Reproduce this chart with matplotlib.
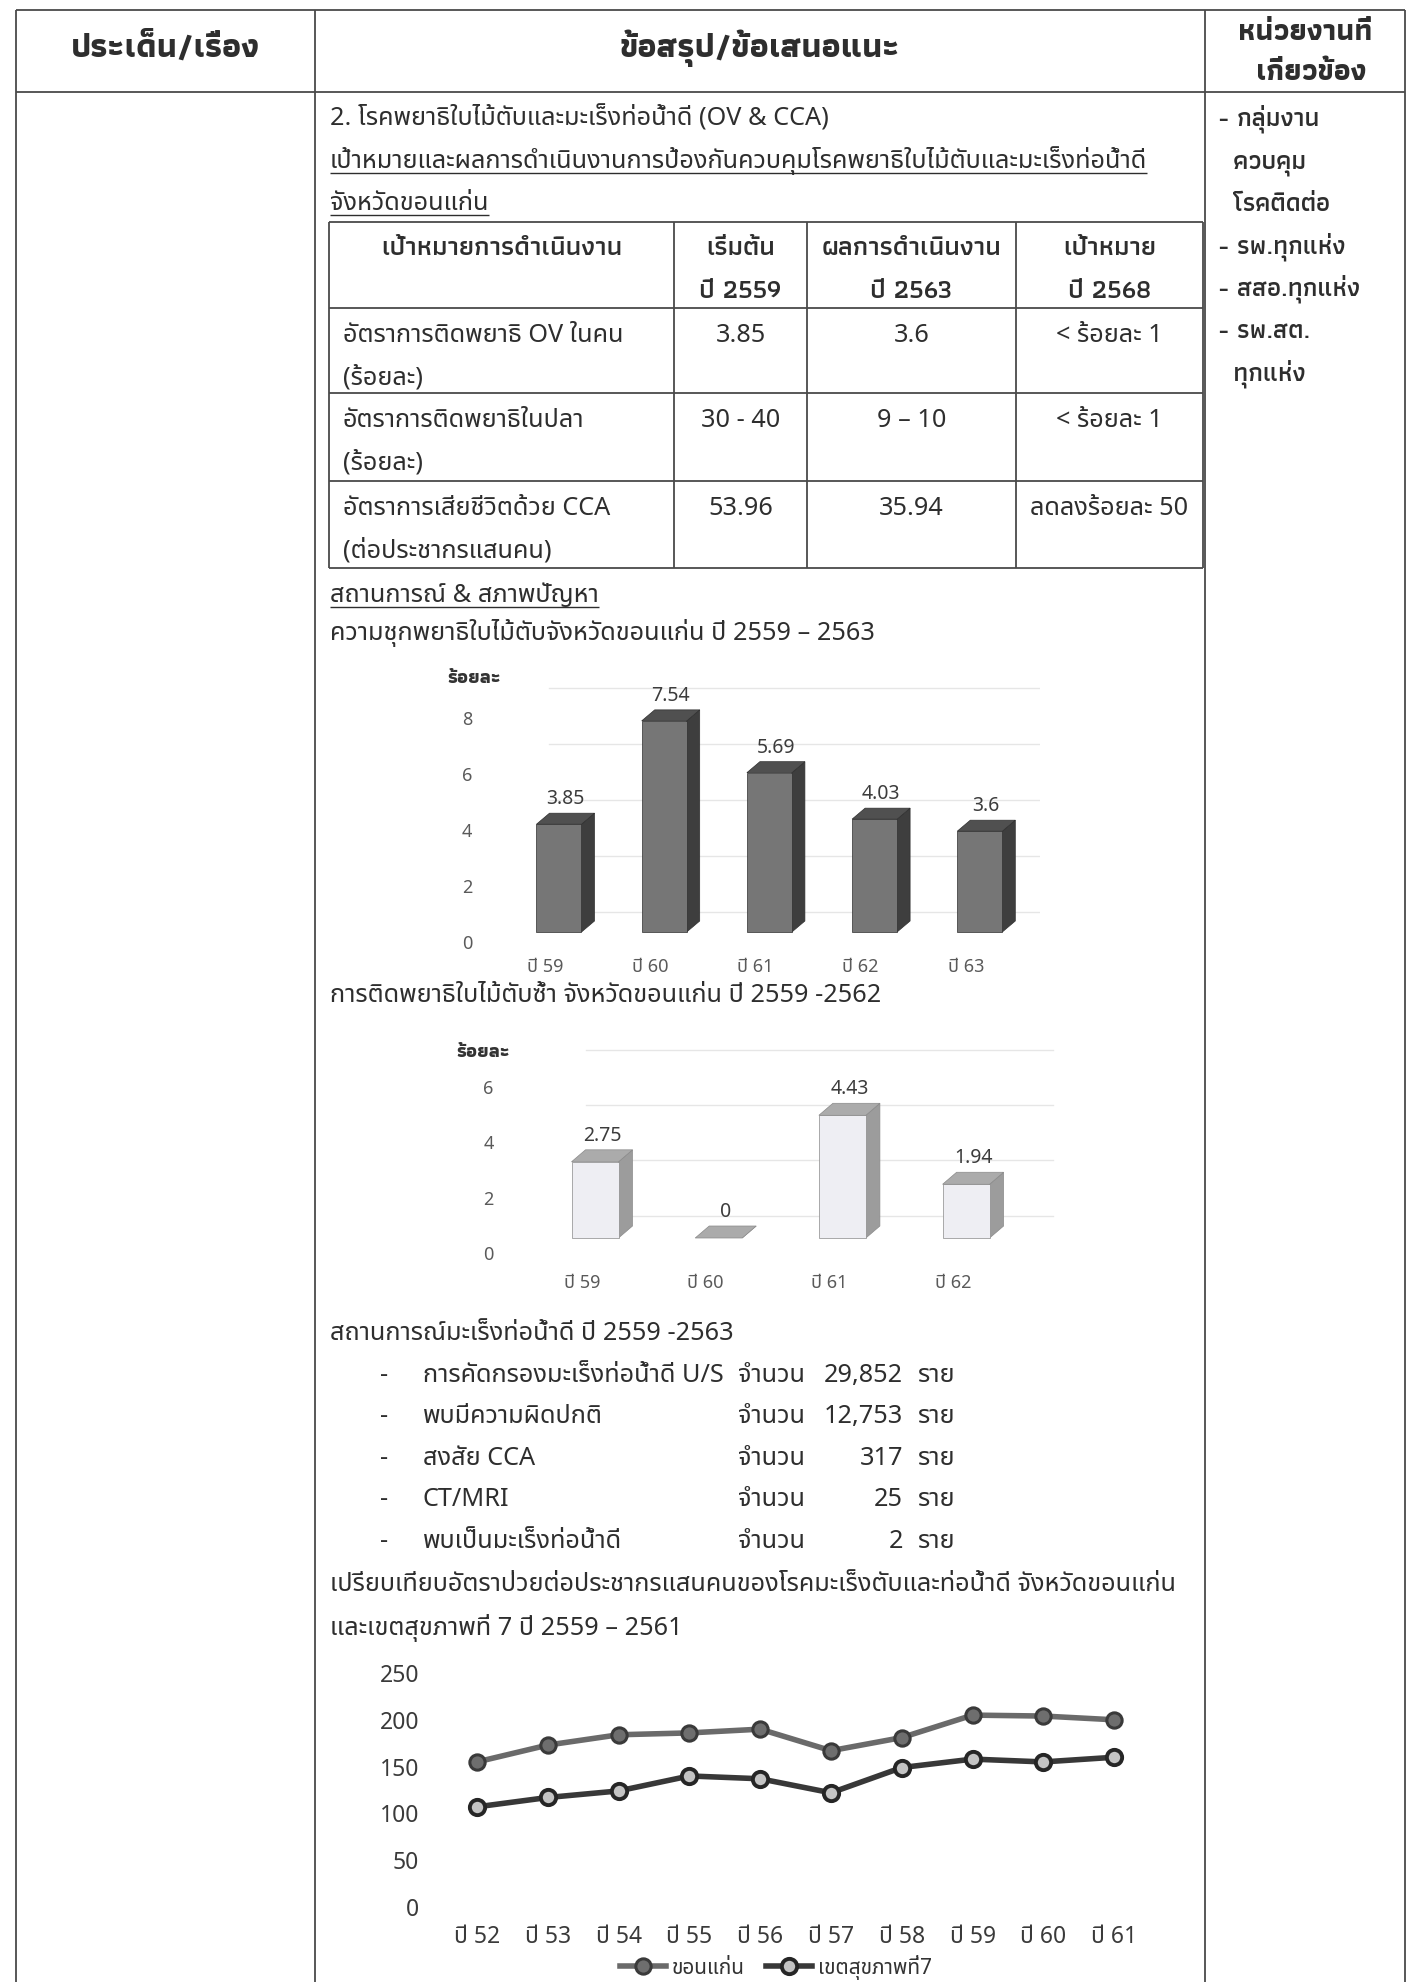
import matplotlib
matplotlib.use("Agg")
import matplotlib.pyplot as plt
from matplotlib.lines import Line2D
from matplotlib.patches import Polygon
from matplotlib.transforms import ScaledTranslation

W, H, DPI = 1412, 1982, 100
TEXT_FONT = ['Noto Sans Thai', 'Noto Sans', 'DejaVu Sans']
BOLD_FONT = ['Athiti', 'Noto Sans Thai', 'DejaVu Sans']
CHART_FONT = ['Noto Sans Thai', 'Noto Sans', 'DejaVu Sans']
plt.rcParams['font.family'] = TEXT_FONT

INK = '#2e2e2e'
RULE = '#4a4a4a'

# ---------------- data ----------------
agencies = ["- กลุ่มงาน", "  ควบคุม", "  โรคติดต่อ", "- รพ.ทุกแห่ง", "- สสอ.ทุกแห่ง", "- รพ.สต.", "  ทุกแห่ง"]

table_header = ["เป้าหมายการดำเนินงาน", "เริ่มต้น\nปี 2559", "ผลการดำเนินงาน\nปี 2563", "เป้าหมาย\nปี 2568"]
indicators = ["อัตราการติดพยาธิ OV ในคน\n(ร้อยละ)",
              "อัตราการติดพยาธิในปลา\n(ร้อยละ)",
              "อัตราการเสียชีวิตด้วย CCA\n(ต่อประชากรแสนคน)"]
baseline_2559 = ["3.85", "30 - 40", "53.96"]
result_2563 = ["3.6", "9 – 10", "35.94"]
goal_2568 = ["< ร้อยละ 1", "< ร้อยละ 1", "ลดลงร้อยละ 50"]

ov_years = ["ปี 59", "ปี 60", "ปี 61", "ปี 62", "ปี 63"]
ov_prevalence = [3.85, 7.54, 5.69, 4.03, 3.6]
ov_ticks = [0, 2, 4, 6, 8]

reinf_years = ["ปี 59", "ปี 60", "ปี 61", "ปี 62"]
reinf_rate = [2.75, 0, 4.43, 1.94]
reinf_ticks = [0, 2, 4, 6]

cca_steps = ["การคัดกรองมะเร็งท่อน้ำดี U/S", "พบมีความผิดปกติ", "สงสัย CCA", "CT/MRI", "พบเป็นมะเร็งท่อน้ำดี"]
cca_counts = [29852, 12753, 317, 25, 2]

trend_years = ["ปี 52", "ปี 53", "ปี 54", "ปี 55", "ปี 56", "ปี 57", "ปี 58", "ปี 59", "ปี 60", "ปี 61"]
khonkaen_rate = [155, 173, 184, 186, 190, 167, 181, 205, 204, 200]
region7_rate = [107, 117, 124, 140, 137, 122, 149, 158, 155, 160]
trend_ticks = [0, 50, 100, 150, 200, 250]

# ---------------- page ----------------
fig = plt.figure(figsize=(W / DPI, H / DPI), dpi=DPI)
fig.patch.set_facecolor('white')
renderer = fig.canvas.get_renderer()


def fx(x):
    return x / W


def fy(y):
    return 1 - y / H


def seg(x0, y0, x1, y1, lw=1.3, color=RULE):
    fig.add_artist(Line2D([fx(x0), fx(x1)], [fy(y0), fy(y1)], lw=lw, color=color,
                          transform=fig.transFigure, solid_capstyle='butt'))


def width_of(s, size, weight='normal', family=None):
    t = fig.text(0, 0, s, fontsize=size, fontweight=weight, family=family or TEXT_FONT)
    w = t.get_window_extent(renderer).width
    t.remove()
    return w


def fit(s, target, weight='normal', family=None):
    return 20 * target / width_of(s, 20, weight, family)


compare_line = "เปรียบเทียบอัตราป่วยต่อประชากรแสนคนของโรคมะเร็งตับและท่อน้ำดี จังหวัดขอนแก่น"
BODY = fit(compare_line, 848)
HEAD = fit("ข้อสรุป/ข้อเสนอแนะ", 280, 'bold', BOLD_FONT)
HEAD_SIDE = fit("หน่วยงานที่", 134, 'bold', BOLD_FONT)
SIDE = fit("- สสอ.ทุกแห่ง", 142, 'semibold', BOLD_FONT)
THEAD = fit("ผลการดำเนินงาน", 180, 'semibold', BOLD_FONT)


def put(x, y, s, size=None, ha='left', weight='normal', color=INK, underline=False, family=None):
    size = BODY if size is None else size
    base = y + 0.27 * size * DPI / 72
    t = fig.text(fx(x), fy(base), s, fontsize=size, ha=ha, va='baseline',
                 fontweight=weight, color=color, family=family or TEXT_FONT)
    if underline:
        bb = t.get_window_extent(renderer)
        yy = base + 0.2 * size * DPI / 72
        seg(bb.x0, yy, bb.x1, yy, lw=1.0, color=INK)
    return t


# outer frame of the page table
COL0, COL1, COL2, COL3 = 16, 315, 1205, 1405
TOP, HEAD_BOTTOM = 10, 92
seg(COL0, TOP, COL3, TOP)
seg(COL0, HEAD_BOTTOM, COL3, HEAD_BOTTOM)
for x in (COL0, COL1, COL2, COL3):
    seg(x, TOP, x, H)

put((COL0 + COL1) / 2, 48, "ประเด็น/เรื่อง", HEAD, ha='center', weight='bold', family=BOLD_FONT)
put((COL1 + COL2) / 2, 48, "ข้อสรุป/ข้อเสนอแนะ", HEAD, ha='center', weight='bold', family=BOLD_FONT)
put((COL2 + COL3) / 2, 32, "หน่วยงานที่", HEAD_SIDE, ha='center', weight='bold', family=BOLD_FONT)
put((COL2 + COL3) / 2 + 6, 72, "เกี่ยวข้อง", HEAD_SIDE, ha='center', weight='bold', family=BOLD_FONT)

PITCH = 42.5
for i, a in enumerate(agencies):
    put(1218, 119 + i * PITCH, a, SIDE, weight='semibold', family=BOLD_FONT)

# section heading
TX = 330
put(TX, 119, "2. โรคพยาธิใบไม้ตับและมะเร็งท่อน้ำดี (OV & CCA)")
put(TX, 161, "เป้าหมายและผลการดำเนินงานการป้องกันควบคุมโรคพยาธิใบไม้ตับและมะเร็งท่อน้ำดี", underline=True)
put(TX, 203, "จังหวัดขอนแก่น", underline=True)

# targets table
tcols = [329, 674, 807, 1016, 1203]
trows = [222, 308, 393, 481, 568]
for y in trows:
    seg(tcols[0], y, tcols[-1], y)
for x in tcols:
    seg(x, trows[0], x, trows[-1])
centers = [(tcols[i] + tcols[i + 1]) / 2 for i in range(4)]
for j, h in enumerate(table_header):
    for k, line in enumerate(h.split("\n")):
        put(centers[j], trows[0] + 26 + k * PITCH, line, THEAD, ha='center', weight='semibold',
            family=BOLD_FONT)
for r in range(3):
    y0 = trows[r + 1] + 27
    for k, line in enumerate(indicators[r].split("\n")):
        put(343, y0 + k * PITCH, line)
    put(centers[1], y0, baseline_2559[r], ha='center')
    put(centers[2], y0, result_2563[r], ha='center')
    put(centers[3], y0, goal_2568[r], ha='center')

put(TX, 595, "สถานการณ์ & สภาพปัญหา", underline=True)
put(TX, 633, "ความชุกพยาธิใบไม้ตับจังหวัดขอนแก่น ปี 2559 – 2563")


# ---------------- 3D-look column charts ----------------
def axes_px(left, top, right, bottom):
    ax = fig.add_axes([fx(left), fy(bottom), (right - left) / W, (bottom - top) / H])
    ax.set_facecolor('none')
    for s in ax.spines.values():
        s.set_visible(False)
    ax.tick_params(length=0)
    return ax


def lims(p0, p1, pa, va, pb, vb):
    k = (vb - va) / (pb - pa)
    return va + (p0 - pa) * k, va + (p1 - pa) * k


def columns3d(ax, values, labels, ticks, width, dx, dy, faces, grid_lift, xlab_shift,
              ylab_drop, tick_pad, xlab_pad):
    front, side, top, edge = faces
    for t in ticks:
        ax.plot([-width / 2 + dx, len(values) - 0.3], [t + grid_lift] * 2, color='#e6e6e6',
                lw=1.0, zorder=0)
    for i, v in enumerate(values):
        x0, x1 = i - width / 2, i + width / 2
        ax.add_patch(Polygon([(x1, 0), (x1 + dx, dy), (x1 + dx, v + dy), (x1, v)],
                             closed=True, fc=side, ec=edge, lw=0.5, zorder=2))
        ax.add_patch(Polygon([(x0, v), (x0 + dx, v + dy), (x1 + dx, v + dy), (x1, v)],
                             closed=True, fc=top, ec=edge, lw=0.5, zorder=3))
        if v > 0:
            ax.add_patch(Polygon([(x0, 0), (x1, 0), (x1, v), (x0, v)],
                                 closed=True, fc=front, ec=edge, lw=0.5, zorder=2))
        ax.annotate(f"{v:g}", (i + dx / 2, v + dy), xytext=(0, 3), textcoords='offset points',
                    ha='center', va='bottom', fontsize=14, color='#3c3c3c', family=CHART_FONT)
    ax.set_xticks(range(len(values)))
    ax.set_xticklabels(labels, fontsize=13, color='#5a5a5a', family=CHART_FONT)
    ax.set_yticks(ticks)
    ax.set_yticklabels([str(t) for t in ticks], fontsize=13, color='#5a5a5a', family=CHART_FONT)
    ax.tick_params(axis='y', pad=tick_pad)
    ax.tick_params(axis='x', pad=xlab_pad)
    for lab in ax.get_yticklabels():
        lab.set_transform(lab.get_transform() + ScaledTranslation(0, -ylab_drop / DPI, fig.dpi_scale_trans))
    for lab in ax.get_xticklabels():
        lab.set_transform(lab.get_transform() + ScaledTranslation(-xlab_shift / DPI, 0, fig.dpi_scale_trans))


# chart 1: prevalence
L1, R1, T1, B1 = 500, 1040, 660, 946
ax1 = axes_px(L1, T1, R1, B1)
step1, unit1 = 105.2, 28.0
ax1.set_xlim(*lims(L1, R1, 559, 0, 559 + step1, 1))
ax1.set_ylim(*lims(B1, T1, 932, 0, 932 - unit1, 1))
columns3d(ax1, ov_prevalence, ov_years, ov_ticks, 45 / step1, 13 / step1, 11 / unit1,
          ('#767676', '#3e3e3e', '#505050', '#2f2f2f'), 0.7, 14, 10, 20, 9)
put(474, 678, "ร้อยละ", 14, ha='center', weight='bold', color='#333333', family=BOLD_FONT)

put(TX, 995, "การติดพยาธิใบไม้ตับซ้ำ จังหวัดขอนแก่น ปี 2559 -2562")

# chart 2: re-infection
L2, R2, T2, B2 = 520, 1060, 1044, 1256
ax2 = axes_px(L2, T2, R2, B2)
step2, unit2 = 123.7, 27.7
ax2.set_xlim(*lims(L2, R2, 595, 0, 595 + step2, 1))
ax2.set_ylim(*lims(B2, T2, 1238, 0, 1238 - unit2, 1))
columns3d(ax2, reinf_rate, reinf_years, reinf_ticks, 47 / step2, 14 / step2, 12 / unit2,
          ('#eeeef3', '#9c9c9c', '#ababab', '#8a8a8a'), 0.8, 13, 15, 19, 13)
put(483, 1052, "ร้อยละ", 14, ha='center', weight='bold', color='#333333', family=BOLD_FONT)

# CCA situation list
put(TX, 1333, "สถานการณ์มะเร็งท่อน้ำดี ปี 2559 -2563")
for i, (name, n) in enumerate(zip(cca_steps, cca_counts)):
    y = 1375 + i * 41.5
    put(380, y, "-")
    put(423, y, name)
    put(738, y, "จำนวน")
    put(903, y, f"{n:,}", ha='right')
    put(917, y, "ราย")

put(TX, 1584, compare_line)
put(TX, 1628, "และเขตสุขภาพที่ 7 ปี 2559 – 2561")

# ---------------- trend line chart ----------------
L3, R3, T3, B3 = 430, 1160, 1660, 1915
ax3 = axes_px(L3, T3, R3, B3)
step3, unit3 = 70.8, 234 / 250
ax3.set_xlim(*lims(L3, R3, 477, 0, 477 + step3, 1))
ax3.set_ylim(*lims(B3, T3, 1907, 0, 1907 - unit3, 1))
x3 = range(len(trend_years))
ax3.plot(x3, khonkaen_rate, color='#6a6a6a', lw=4.0, marker='o', ms=11,
         mfc='#6e6e6e', mec='#3a3a3a', mew=2.2, label="ขอนแก่น", zorder=3)
ax3.plot(x3, region7_rate, color='#383838', lw=4.0, marker='o', ms=11,
         mfc='#c4c4c4', mec='#262626', mew=2.8, label="เขตสุขภาพที่7", zorder=3)
ax3.set_xticks(list(x3))
ax3.set_xticklabels(trend_years, fontsize=16.5, color='#3a3a3a', family=CHART_FONT)
ax3.set_yticks(trend_ticks)
ax3.set_yticklabels([str(t) for t in trend_ticks], fontsize=16.5, color='#3a3a3a', family=CHART_FONT)
ax3.tick_params(axis='y', pad=8)
ax3.tick_params(axis='x', pad=7)
ax3.legend(loc='center', bbox_to_anchor=(fx(776), fy(1967)), bbox_transform=fig.transFigure,
           ncol=2, frameon=False, fontsize=15, handlelength=2.2, handletextpad=0.3,
           columnspacing=1.0, labelcolor='#333333', borderpad=0.1)

fig.savefig("out.png", dpi=DPI, facecolor='white')
